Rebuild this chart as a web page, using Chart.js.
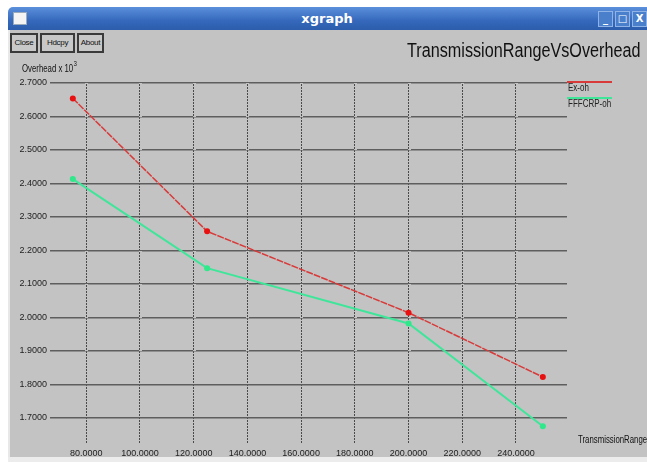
<!DOCTYPE html>
<html>
<head>
<meta charset="utf-8">
<title>xgraph</title>
<script src="https://cdn.jsdelivr.net/npm/chart.js@4"></script>
<style>
  html, body { margin: 0; padding: 0; background: #fff; }
  #win { position: relative; width: 647px; height: 462px; overflow: hidden; background: #fff; }
  #titlebar {
    position: absolute; left: 8px; top: 7px; width: 650px; height: 23px;
    background: linear-gradient(#5b90dc, #3568bb 60%, #2c5dac);
    border-top-left-radius: 5px;
    color: #fff; font: bold 13px "DejaVu Sans", sans-serif;
    text-align: center; line-height: 23px;
  }
  #titlebar .t { position: absolute; left: 0; width: 638px; text-align: center; }
  #sysbox { position: absolute; left: 5px; top: 5px; width: 12px; height: 11px; background: #f4f4f4; border: 1px solid #9ab; }
  .ctl { position: absolute; top: 4px; width: 13px; height: 14px; background: #4a7fcc; border: 1px solid #8fb3e6;
         color: #fff; font: bold 10px "DejaVu Sans", sans-serif; line-height: 14px; text-align: center; }
  #body { position: absolute; left: 8px; top: 30px; width: 650px; height: 428px; background: #c3c3c3;
          border-left: 2px solid #e8e8e8; box-sizing: border-box; }
  #bottom { position: absolute; left: 8px; top: 457px; width: 650px; height: 5px; background: #ececec; }
  .btn { position: absolute; top: 3px; height: 16px; border: 2px solid #3a3a3a; background: #c8c8c8;
         font: 8px "Liberation Sans", sans-serif; line-height: 16px; text-align: center; color: #111; letter-spacing: -0.3px; }
  #plot { position: absolute; left: 0; top: 0; }
</style>
</head>
<body>
<div id="win">
  <div id="titlebar">
    <div id="sysbox"></div>
    <span class="t">xgraph</span>
    <div class="ctl" style="left:590px">_</div>
    <div class="ctl" style="left:607px">□</div>
    <div class="ctl" style="left:624px">X</div>
  </div>
  <div id="body">
    <div class="btn" style="left:0px;width:24px">Close</div>
    <div class="btn" style="left:30px;width:31px">Hdcpy</div>
    <div class="btn" style="left:67px;width:23px">About</div>
  </div>
  <div id="bottom"></div>
  <canvas id="plot" width="647" height="462"></canvas>
</div>
<script>
// values
const ranges = [75, 125, 200, 250];
const exOh = [2.654, 2.257, 2.014, 1.822];
const fffcrpOh = [2.413, 2.147, 1.982, 1.675];
const seriesNames = ['Ex-oh', 'FFFCRP-oh'];
const xTicks = [80, 100, 120, 140, 160, 180, 200, 220, 240];
const yTicks = [1.7, 1.8, 1.9, 2.0, 2.1, 2.2, 2.3, 2.4, 2.5, 2.6, 2.7];

const RED = '#d83a3a';
const GREEN = '#3fe69a';
const FONT = '"Liberation Sans", Arial, sans-serif';

// narrow text like the xgraph font: squeeze horizontally
function narrowText(ctx, str, x, y, sx) {
    ctx.save();
    ctx.translate(x, y);
    ctx.scale(sx, 1);
    ctx.fillText(str, 0, 0);
    ctx.restore();
}

// xgraph-style texts: title, axis labels and legend
const xgraphTexts = {
    id: 'xgraphTexts',
    afterDraw(chart) {
        const ctx = chart.ctx;
        const area = chart.chartArea;
        ctx.save();
        ctx.fillStyle = '#111';
        ctx.textBaseline = 'middle';
        ctx.textAlign = 'left';

        ctx.font = '20px ' + FONT;
        narrowText(ctx, 'TransmissionRangeVsOverhead', 407, 51, 0.81);

        ctx.font = '10px ' + FONT;
        narrowText(ctx, 'Overhead x 10', 22, 69, 0.78);
        const w = ctx.measureText('Overhead x 10').width * 0.78;
        ctx.font = '7px ' + FONT;
        narrowText(ctx, '3', 22 + w + 0.5, 64, 0.8);

        ctx.font = '10px ' + FONT;
        narrowText(ctx, 'TransmissionRange', 578, 440, 0.78);

        const colors = [RED, GREEN];
        seriesNames.forEach((name, i) => {
            const y = 82 + i * 16;
            ctx.strokeStyle = colors[i];
            ctx.lineWidth = 2;
            ctx.beginPath();
            ctx.moveTo(area.right, y);
            ctx.lineTo(area.right + 45, y);
            ctx.stroke();
            ctx.fillStyle = '#222';
            ctx.font = '10px ' + FONT;
            narrowText(ctx, name, area.right + 1, y + 6, 0.8);
        });
        ctx.restore();
    }
};

new Chart(document.getElementById('plot').getContext('2d'), {
    type: 'line',
    data: {
        datasets: [{
            label: seriesNames[0],
            data: ranges.map((x, i) => ({ x: x, y: exOh[i] })),
            borderColor: RED,
            backgroundColor: '#e81010',
            borderWidth: 1.5,
            borderDash: [7, 1],
            pointRadius: 3,
            pointBorderWidth: 0,
            tension: 0
        }, {
            label: seriesNames[1],
            data: ranges.map((x, i) => ({ x: x, y: fffcrpOh[i] })),
            borderColor: GREEN,
            backgroundColor: '#2ee88a',
            borderWidth: 2,
            pointRadius: 3,
            pointBorderWidth: 0,
            tension: 0
        }]
    },
    options: {
        responsive: false,
        animation: false,
        layout: { padding: { left: 10, top: 83, right: 80, bottom: 0 } },
        plugins: { legend: { display: false }, tooltip: { enabled: false } },
        scales: {
            x: {
                type: 'linear',
                min: 66.5,
                max: 259,
                afterBuildTicks: s => { s.ticks = xTicks.map(v => ({ value: v })); },
                afterFit: s => { s.height = 19; },
                border: { display: false },
                grid: { color: '#4a4a4a', lineWidth: 1, tickLength: 0, drawTicks: false },
                ticks: {
                    padding: 5,
                    maxRotation: 0,
                    autoSkip: false,
                    color: '#222',
                    font: { family: FONT, size: 9 },
                    callback: v => v.toFixed(4)
                }
            },
            y: {
                min: 1.625,
                max: 2.7,
                afterBuildTicks: s => { s.ticks = yTicks.map(v => ({ value: v })); },
                afterFit: s => { s.width = 40; },
                border: { display: false },
                grid: { color: '#5e5e5e', lineWidth: 1.5, drawTicks: false },
                ticks: {
                    padding: 3,
                    autoSkip: false,
                    color: '#222',
                    font: { family: FONT, size: 9 },
                    callback: v => v.toFixed(4)
                }
            }
        }
    },
    plugins: [xgraphTexts, {
        id: 'dottedVertical',
        beforeDatasetsDraw(chart) {
            // xgraph draws the vertical grid as fine dotted lines
            const ctx = chart.ctx, area = chart.chartArea, xs = chart.scales.x;
            ctx.save();
            ctx.fillStyle = '#c3c3c3';
            xTicks.forEach(v => {
                const px = Math.round(xs.getPixelForValue(v));
                for (let y = area.top; y < area.bottom; y += 3) {
                    ctx.fillRect(px - 1, y, 3, 1);
                }
            });
            ctx.restore();
        }
    }]
});
</script>
</body>
</html>
